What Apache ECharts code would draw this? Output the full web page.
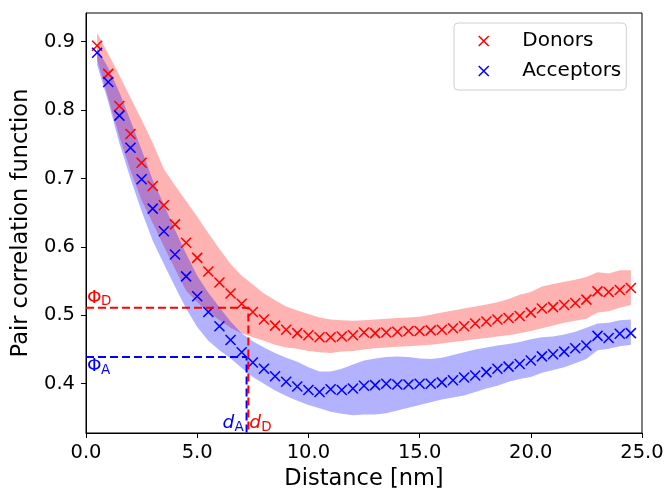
<!DOCTYPE html>
<html><head><meta charset="utf-8">
<script src="https://cdn.jsdelivr.net/npm/echarts@6/dist/echarts.min.js"></script>
<style>html,body{margin:0;padding:0;background:#fff}#c{width:665px;height:490px}</style>
</head><body><div id="c"></div>
<script>
const distances = [0.5,1.0,1.5,2.0,2.5,3.0,3.5,4.0,4.5,5.0,5.5,6.0,6.5,7.0,7.5,8.0,8.5,9.0,9.5,10.0,10.5,11.0,11.5,12.0,12.5,13.0,13.5,14.0,14.5,15.0,15.5,16.0,16.5,17.0,17.5,18.0,18.5,19.0,19.5,20.0,20.5,21.0,21.5,22.0,22.5,23.0,23.5,24.0,24.5];
const donors = [0.894,0.853,0.806,0.765,0.723,0.689,0.661,0.633,0.606,0.584,0.564,0.548,0.532,0.517,0.505,0.494,0.485,0.479,0.474,0.471,0.468,0.468,0.469,0.471,0.475,0.474,0.475,0.476,0.477,0.477,0.478,0.479,0.481,0.484,0.488,0.491,0.494,0.496,0.499,0.504,0.510,0.512,0.515,0.518,0.523,0.535,0.534,0.537,0.540];
const donorsUpper = [0.913,0.882,0.851,0.818,0.786,0.752,0.714,0.690,0.667,0.644,0.620,0.597,0.575,0.558,0.545,0.532,0.522,0.513,0.507,0.502,0.497,0.494,0.493,0.492,0.493,0.494,0.495,0.496,0.497,0.498,0.501,0.504,0.507,0.510,0.513,0.516,0.519,0.524,0.530,0.534,0.542,0.546,0.549,0.552,0.556,0.563,0.561,0.566,0.566];
const donorsLower = [0.874,0.818,0.761,0.712,0.668,0.635,0.601,0.568,0.536,0.519,0.505,0.493,0.482,0.474,0.468,0.463,0.457,0.453,0.451,0.448,0.446,0.445,0.447,0.448,0.450,0.452,0.453,0.454,0.455,0.456,0.457,0.459,0.461,0.463,0.465,0.467,0.469,0.471,0.474,0.477,0.481,0.485,0.489,0.492,0.495,0.504,0.506,0.511,0.515];
const acceptors = [0.884,0.841,0.792,0.745,0.699,0.656,0.623,0.589,0.557,0.528,0.505,0.484,0.464,0.446,0.431,0.422,0.411,0.403,0.396,0.391,0.388,0.392,0.391,0.393,0.397,0.398,0.400,0.399,0.399,0.400,0.400,0.402,0.405,0.409,0.412,0.417,0.422,0.425,0.429,0.434,0.440,0.443,0.447,0.452,0.456,0.470,0.467,0.473,0.474];
const acceptorsUpper = [0.890,0.862,0.826,0.785,0.742,0.698,0.662,0.625,0.590,0.558,0.533,0.512,0.491,0.474,0.462,0.453,0.445,0.438,0.432,0.424,0.418,0.418,0.422,0.428,0.434,0.437,0.439,0.440,0.439,0.437,0.436,0.438,0.442,0.446,0.450,0.453,0.456,0.458,0.461,0.465,0.468,0.469,0.472,0.476,0.482,0.488,0.489,0.493,0.494];
const acceptorsLower = [0.866,0.812,0.752,0.700,0.652,0.609,0.575,0.542,0.510,0.483,0.463,0.449,0.437,0.423,0.410,0.400,0.390,0.382,0.375,0.369,0.364,0.359,0.356,0.354,0.355,0.355,0.357,0.361,0.365,0.369,0.373,0.377,0.380,0.383,0.388,0.393,0.397,0.403,0.407,0.410,0.416,0.420,0.424,0.430,0.436,0.449,0.451,0.455,0.457];
const xTicks = [0, 5, 10, 15, 20, 25];
const yTicks = [0.4, 0.5, 0.6, 0.7, 0.8, 0.9];
const phiD = 0.511, dD = 7.30;
const phiA = 0.439, dA = 7.22;
const xMin = 0, xMax = 25, yMin = 0.328, yMax = 0.942;

const FONT = 'DejaVu Sans';
const xPath = 'path://M0,0L10,10M10,0L0,10';

function band(upper, lower, fill) {
  return function (params, api) {
    const pts = [];
    for (let i = 0; i < distances.length; i++) pts.push(api.coord([distances[i], upper[i]]));
    for (let i = distances.length - 1; i >= 0; i--) pts.push(api.coord([distances[i], lower[i]]));
    return { type: 'polygon', shape: { points: pts }, style: { fill: fill } };
  };
}

const chart = echarts.init(document.getElementById('c'), null, { renderer: 'canvas' });
const option = {
  animation: false,
  backgroundColor: '#fff',
  textStyle: { fontFamily: FONT },
  grid: { left: 86, right: 23, top: 13, bottom: 57, containLabel: false, outerBoundsMode: 'none',
          show: true, borderColor: '#000', borderWidth: 1, backgroundColor: 'transparent' },
  xAxis: {
    type: 'value', min: xMin, max: xMax, interval: 5,
    name: 'Distance [nm]', nameLocation: 'middle', nameGap: 25,
    nameTextStyle: { fontSize: 22.5, color: '#000', fontFamily: FONT },
    axisLine: { show: true, onZero: false, lineStyle: { color: '#000', width: 1 } },
    axisTick: { show: true, length: 5, inside: false, customValues: xTicks, lineStyle: { color: '#000', width: 1 } },
    axisLabel: { fontSize: 19.5, color: '#000', margin: 10, fontFamily: FONT, customValues: xTicks, formatter: v => v.toFixed(1), showMinLabel: true, showMaxLabel: true },
    splitLine: { show: false }
  },
  yAxis: {
    type: 'value', min: yMin, max: yMax,
    name: 'Pair correlation function', nameLocation: 'middle', nameGap: 48, nameRotate: 90,
    nameTextStyle: { fontSize: 22.5, color: '#000', fontFamily: FONT },
    axisLine: { show: true, onZero: false, lineStyle: { color: '#000', width: 1 } },
    axisTick: { show: true, length: 5, customValues: yTicks, lineStyle: { color: '#000', width: 1 } },
    axisLabel: { fontSize: 19.5, color: '#000', margin: 11, fontFamily: FONT, customValues: yTicks, formatter: v => v.toFixed(1) },
    splitLine: { show: false }
  },
  legend: {
    orient: 'vertical', left: 454, top: 23,
    padding: [7, 5, 8, 24], itemGap: 8, itemWidth: 10, itemHeight: 10,
    backgroundColor: '#fff', borderColor: '#d0d0d0', borderWidth: 1, borderRadius: 4,
    textStyle: { fontSize: 20, color: '#000', fontFamily: FONT, lineHeight: 22, padding: [0, 0, 0, 28.5] },
    data: [
      { name: 'Donors', icon: xPath, itemStyle: { color: 'transparent', borderColor: '#ff0000', borderWidth: 1.5 } },
      { name: 'Acceptors', icon: xPath, itemStyle: { color: 'transparent', borderColor: '#0000ff', borderWidth: 1.5 } }
    ]
  },
  series: [
    { type: 'custom', name: 'bandD', silent: true, renderItem: band(donorsUpper, donorsLower, 'rgba(255,0,0,0.3)'), data: [[distances[0], donorsUpper[0]]], z: 1 },
    { type: 'custom', name: 'bandA', silent: true, renderItem: band(acceptorsUpper, acceptorsLower, 'rgba(0,0,255,0.3)'), data: [[distances[0], acceptorsUpper[0]]], z: 1 },
    { type: 'scatter', name: 'Donors', symbol: xPath, symbolSize: 10, z: 3,
      itemStyle: { color: 'transparent', borderColor: '#ff0000', borderWidth: 1.5, opacity: 1 },
      data: distances.map((d, i) => [d, donors[i]]) },
    { type: 'scatter', name: 'Acceptors', symbol: xPath, symbolSize: 10, z: 3,
      itemStyle: { color: 'transparent', borderColor: '#0000ff', borderWidth: 1.5, opacity: 1 },
      data: distances.map((d, i) => [d, acceptors[i]]) },
    { type: 'line', name: 'guideD', symbol: 'none', silent: true, z: 4,
      lineStyle: { color: '#ff0000', width: 2, type: [8, 4] },
      data: [[xMin, phiD], [dD, phiD], [dD, yMin]] },
    { type: 'line', name: 'guideA', symbol: 'none', silent: true, z: 4,
      lineStyle: { color: '#0000ff', width: 2, type: [8, 4] },
      data: [[xMin, phiA], [dA, phiA], [dA, yMin]] }
  ]
};
chart.setOption(option);

const pD = chart.convertToPixel({ gridIndex: 0 }, [xMin, phiD]);
const pA = chart.convertToPixel({ gridIndex: 0 }, [xMin, phiA]);
const vA = chart.convertToPixel({ gridIndex: 0 }, [dA, yMin]);
const vD = chart.convertToPixel({ gridIndex: 0 }, [dD, yMin]);
function txt(s, x, y, color, size, italic, align) {
  return { type: 'text', z: 10, silent: true, x: x, y: y,
    style: { text: s, fill: color, font: (italic ? 'italic ' : '') + size + 'px "DejaVu Sans"', textAlign: align || 'left', textVerticalAlign: 'middle' } };
}
chart.setOption({ graphic: [
  txt('Φ', pD[0] + 1, pD[1] - 10, '#ff0000', 18.5, false),
  txt('D', pD[0] + 15, pD[1] - 6, '#ff0000', 13.5, false),
  txt('Φ', pA[0] + 1, pA[1] + 9, '#0000ff', 18.5, false),
  txt('A', pA[0] + 15, pA[1] + 13, '#0000ff', 13.5, false),
  txt('d', vA[0] - 24, vA[1] - 10, '#0000ff', 18.5, true),
  txt('A', vA[0] - 12, vA[1] - 6, '#0000ff', 13.5, false),
  txt('d', vD[0] + 1, vD[1] - 10, '#ff0000', 18.5, true),
  txt('D', vD[0] + 13, vD[1] - 6, '#ff0000', 13.5, false)
] });
</script>
</body></html>
